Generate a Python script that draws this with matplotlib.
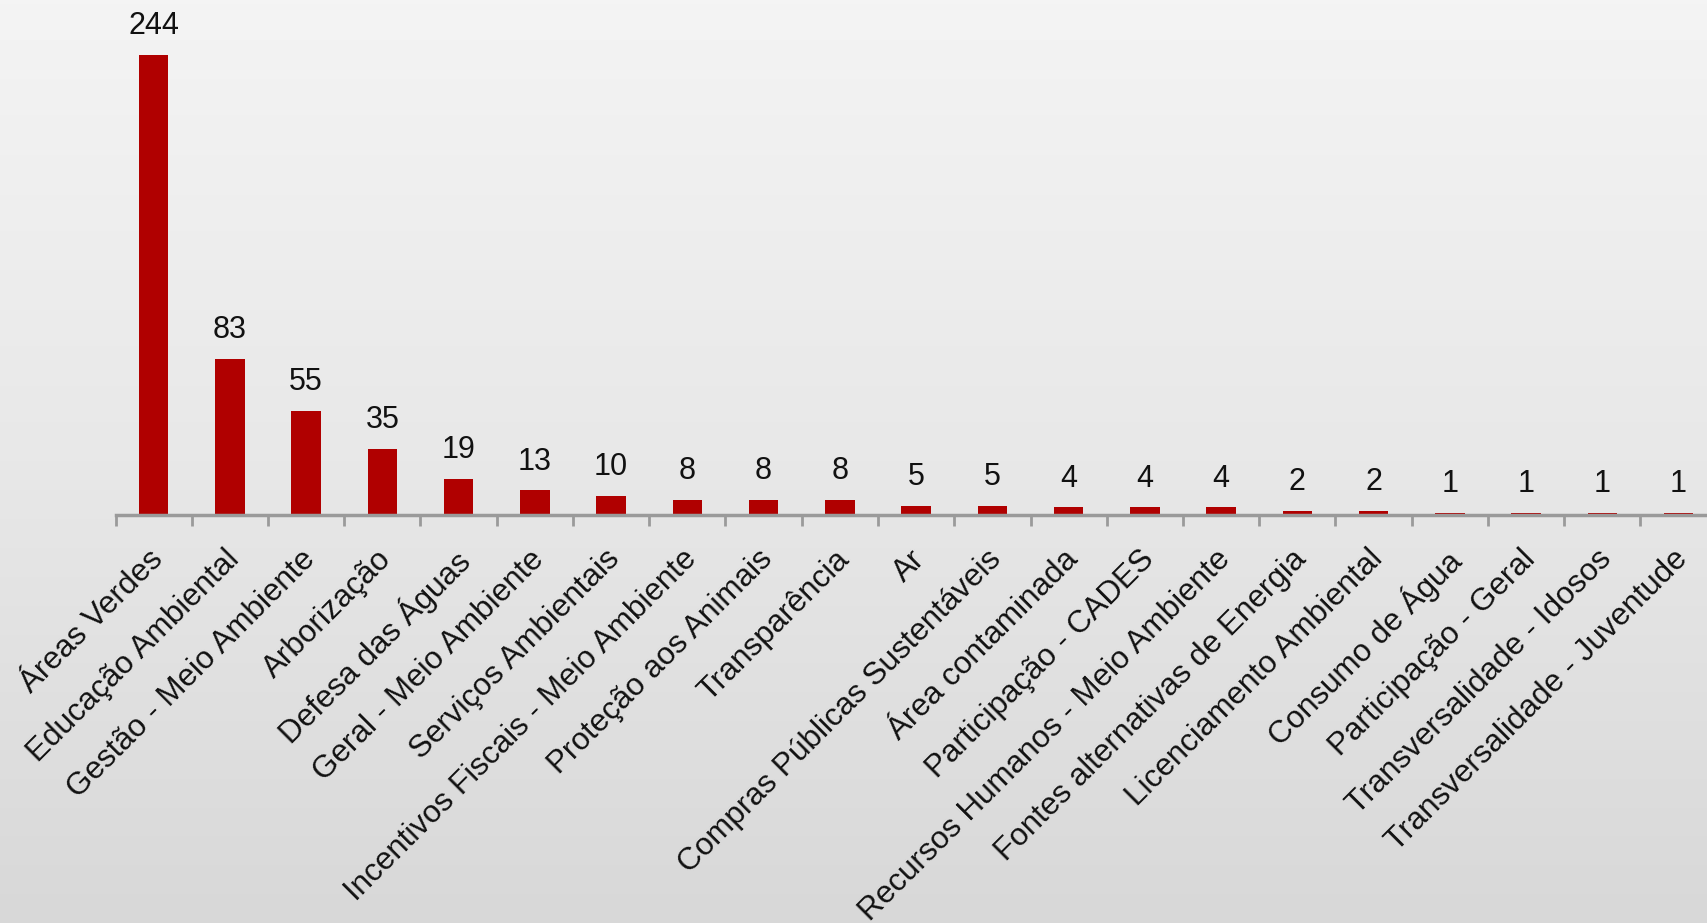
import numpy as np
import matplotlib
matplotlib.use("Agg")
import matplotlib.pyplot as plt
import matplotlib.transforms as mtransforms
from matplotlib.colors import LinearSegmentedColormap

categorias = [
    "Áreas Verdes", "Educação Ambiental", "Gestão - Meio Ambiente", "Arborização",
    "Defesa das Águas", "Geral - Meio Ambiente", "Serviços Ambientais",
    "Incentivos Fiscais - Meio Ambiente", "Proteção aos Animais", "Transparência",
    "Ar", "Compras Públicas Sustentáveis", "Área contaminada", "Participação - CADES",
    "Recursos Humanos - Meio Ambiente", "Fontes alternativas de Energia",
    "Licenciamento Ambiental", "Consumo de Água", "Participação - Geral",
    "Transversalidade - Idosos", "Transversalidade - Juventude",
]
valores = [244, 83, 55, 35, 19, 13, 10, 8, 8, 8, 5, 5, 4, 4, 4, 2, 2, 1, 1, 1, 1]

plt.rcParams['font.family'] = ['Liberation Sans', 'DejaVu Sans']

W, H = 1708, 923
fig = plt.figure(figsize=(W / 100, H / 100), dpi=100)

# fundo em degradê cinza
bg = fig.add_axes([0, 0, 1, 1], zorder=-10)
grad = np.linspace(0, 1, 256).reshape(-1, 1)
cmap = LinearSegmentedColormap.from_list("bg", ["#f4f4f4", "#e8e8e8", "#d8d8d8"])
bg.imshow(grad, aspect="auto", cmap=cmap, extent=[0, 1, 0, 1], origin="upper")
bg.axis("off")

# posição do eixo (em pixels do original)
step = 76.25
x_left = 115.5
x_right = x_left + len(valores) * step
y_axis = 515
ax = fig.add_axes([x_left / W, (H - y_axis) / H, (x_right - x_left) / W, y_axis / H])
ax.patch.set_alpha(0)

x = np.arange(len(valores))
ax.bar(x, valores, width=0.39, color="#b00000", zorder=2)
ax.set_xlim(-0.5, len(valores) - 0.5)
ax.set_ylim(0, y_axis / 1.885)

for xi, v in zip(x, valores):
    ax.annotate(str(v), (xi, v), xytext=(0, 10), textcoords="offset points",
                ha="center", va="bottom", fontsize=22, color="#111111")

for s in ["top", "right", "left"]:
    ax.spines[s].set_visible(False)
ax.spines["bottom"].set_color("#9a9a9a")
ax.spines["bottom"].set_linewidth(2.5)
ax.spines["bottom"].set_zorder(5)
ax.set_yticks([])

ax.set_xticks(np.arange(len(valores) + 1) - 0.5)
ax.set_xticklabels([])
ax.tick_params(axis="x", direction="out", length=8, width=2, color="#9a9a9a")
ax.set_xticks(x, minor=True)
ax.set_xticklabels(categorias, minor=True, rotation=45, ha="right", va="top",
                   rotation_mode="anchor", fontsize=22.6, color="#111111")
ax.tick_params(axis="x", which="minor", length=0, pad=21)
shift = mtransforms.ScaledTranslation(-6 / 100, 0, fig.dpi_scale_trans)
for lbl in ax.get_xticklabels(minor=True):
    lbl.set_transform(lbl.get_transform() + shift)

fig.savefig("out.png", dpi=100)
